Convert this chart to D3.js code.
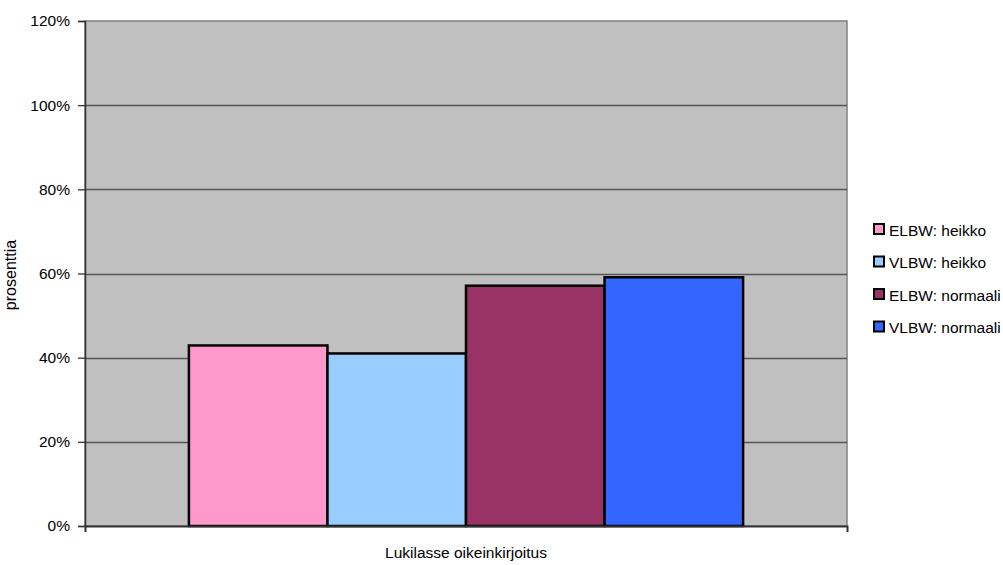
<!DOCTYPE html>
<html>
<head>
<meta charset="utf-8">
<script src="https://cdn.jsdelivr.net/npm/d3@7"></script>
<style>
  body { margin: 0; background: #fff; }
  text { font-family: "Liberation Sans", Arial, sans-serif; fill: #000; }
</style>
</head>
<body>
<div id="chart"></div>
<script>
// Lukilasse oikeinkirjoitus - percentages per group

var category = "Lukilasse oikeinkirjoitus";
var seriesNames = ["ELBW: heikko", "VLBW: heikko", "ELBW: normaali", "VLBW: normaali"];
var seriesValues = [42.9, 41.0, 57.1, 59.1];
var seriesColors = ["#ff99cc", "#99ccff", "#993366", "#3366ff"];
var yTicks = [0, 20, 40, 60, 80, 100, 120];

var svgWidth = 1003;
var svgHeight = 565;

var margin = { top: 21, right: 156, bottom: 39, left: 85 };
var width = svgWidth - margin.left - margin.right;
var height = svgHeight - margin.top - margin.bottom;

var svg = d3.select("#chart")
  .append("svg")
  .attr("width", svgWidth)
  .attr("height", svgHeight);

var g = svg.append("g")
  .attr("transform", `translate(${margin.left}, ${margin.top})`);

// scales
var y = d3.scaleLinear().domain([0, 120]).range([height, 0]);

var x0 = d3.scaleBand()
  .domain([category])
  .range([0, width])
  .paddingInner(0)
  .paddingOuter(0.1875);

var x1 = d3.scaleBand()
  .domain(seriesNames)
  .range([0, x0.bandwidth()])
  .padding(0);

// plot background
g.append("rect")
  .attr("width", width)
  .attr("height", height)
  .attr("fill", "#c0c0c0")
  .attr("stroke", "#808080")
  .attr("stroke-width", 1.5);

// gridlines
g.selectAll(".grid")
  .data(yTicks.filter(d => d > 0 && d < 120))
  .enter()
  .append("line")
  .attr("x1", 0)
  .attr("x2", width)
  .attr("y1", d => Math.round(y(d)) + 0.5)
  .attr("y2", d => Math.round(y(d)) + 0.5)
  .attr("stroke", "#555")
  .attr("stroke-width", 1.3);

// bars
var data = seriesNames.map((s, i) => ({ name: s, value: seriesValues[i], color: seriesColors[i] }));

g.selectAll(".bar")
  .data(data)
  .enter()
  .append("rect")
  .attr("x", d => x0(category) + x1(d.name))
  .attr("y", d => y(d.value))
  .attr("width", x1.bandwidth())
  .attr("height", d => height - y(d.value))
  .attr("fill", d => d.color)
  .attr("stroke", "#000")
  .attr("stroke-width", 2.5);

// y axis
var yAxis = g.append("g")
  .call(d3.axisLeft(y).tickValues(yTicks).tickFormat(d => d + "%").tickSizeOuter(0).tickSize(7).tickPadding(8));
yAxis.select(".domain").attr("stroke", "#333").attr("stroke-width", 1.5);
yAxis.selectAll(".tick line").attr("stroke", "#333").attr("stroke-width", 1.3);
yAxis.selectAll("text").attr("font-size", 15.5).attr("font-family", "Liberation Sans, Arial, sans-serif");

// x axis
var xAxis = g.append("g")
  .attr("transform", `translate(0, ${height})`)
  .call(d3.axisBottom(d3.scaleLinear().domain([0, 1]).range([0, width])).tickValues([0, 1]).tickFormat("").tickSize(6));
xAxis.select(".domain").attr("stroke", "#333").attr("stroke-width", 2);
xAxis.selectAll(".tick line").attr("stroke", "#333");

// axis labels
svg.append("text")
  .attr("x", 466)
  .attr("y", 558)
  .attr("text-anchor", "middle")
  .attr("font-size", 15.5)
  .text(category);

svg.append("text")
  .attr("transform", "rotate(-90)")
  .attr("x", -275)
  .attr("y", 16)
  .attr("text-anchor", "middle")
  .attr("font-size", 16)
  .text("prosenttia");

// legend
var legend = svg.selectAll(".legend")
  .data(data)
  .enter()
  .append("g")
  .attr("transform", (d, i) => `translate(874, ${224 + i * 32.5})`);

legend.append("rect")
  .attr("width", 10)
  .attr("height", 10)
  .attr("fill", d => d.color)
  .attr("stroke", "#000")
  .attr("stroke-width", 2);

legend.append("text")
  .attr("x", 15)
  .attr("y", 11.5)
  .attr("font-size", 15.5)
  .text(d => d.name);
</script>
</body>
</html>
